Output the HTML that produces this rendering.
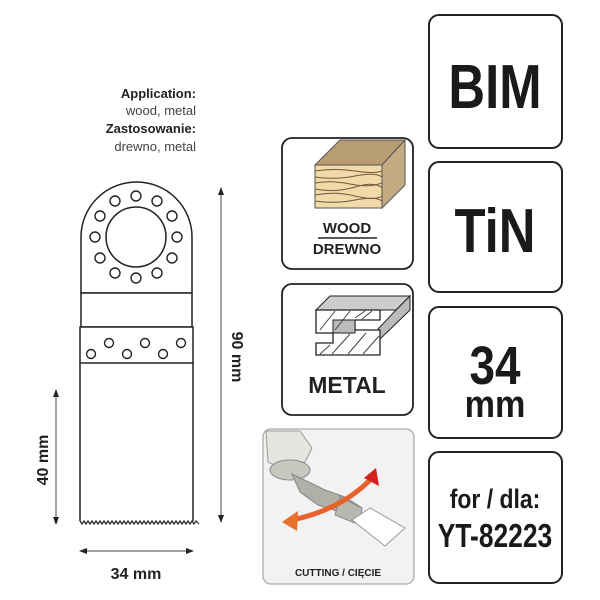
<!DOCTYPE html>
<html><head><meta charset="utf-8"><style>
html,body{margin:0;padding:0;background:#fff;}
svg{display:block;font-family:"Liberation Sans",sans-serif;}
</style></head><body>
<svg width="600" height="600" viewBox="0 0 600 600" xmlns="http://www.w3.org/2000/svg">
<defs>
<marker id="ah" markerWidth="8" markerHeight="8" refX="7" refY="4" orient="auto-start-reverse" markerUnits="userSpaceOnUse"><path d="M0,1 L8,4 L0,7 Z" fill="#222"/></marker>
</defs>
<g font-size="13" text-anchor="end" fill="#222">
<text x="196" y="98" font-weight="bold">Application:</text>
<text x="196" y="115" fill="#444">wood, metal</text>
<text x="196" y="133" font-weight="bold">Zastosowanie:</text>
<text x="196" y="151" fill="#444">drewno, metal</text>
</g>
<g fill="#fff" stroke="#222" stroke-width="1.5">
<path d="M81,293 L81,237 A55.5,55 0 0 1 192,237 L192,293 Z"/>
<rect x="81" y="293" width="111" height="34"/>
<rect x="80" y="327" width="113" height="36"/>
<path d="M80,363 L80,521 M193,521 L193,363" fill="none"/>
<circle cx="136" cy="237" r="30"/>
</g>
<path d="M80,521 l2,3 l2,-3 l2,3 l2,-3 l2,3 l2,-3 l2,3 l2,-3 l2,3 l2,-3 l2,3 l2,-3 l2,3 l2,-3 l2,3 l2,-3 l2,3 l2,-3 l2,3 l2,-3 l2,3 l2,-3 l2,3 l2,-3 l2,3 l2,-3 l2,3 l2,-3 l2,3 l2,-3 l2,3 l2,-3 l2,3 l2,-3 l2,3 l2,-3 l2,3 l2,-3 l2,3 l2,-3 l2,3 l2,-3 l2,3 l2,-3 l2,3 l2,-3 l2,3 l2,-3 l2,3 l2,-3 l2,3 l2,-3 l2,3 l2,-3 l2,3 l2,-3 l2,3 l2,-3 l3,3" fill="none" stroke="#222" stroke-width="1.2"/>
<g fill="#fff" stroke="#222" stroke-width="1.4">
<circle cx="136" cy="196" r="5"/>
<circle cx="157" cy="201" r="5"/>
<circle cx="172" cy="216" r="5"/>
<circle cx="177" cy="237" r="5"/>
<circle cx="172" cy="258" r="5"/>
<circle cx="157" cy="273" r="5"/>
<circle cx="136" cy="278" r="5"/>
<circle cx="115" cy="273" r="5"/>
<circle cx="100" cy="258" r="5"/>
<circle cx="95" cy="237" r="5"/>
<circle cx="100" cy="216" r="5"/>
<circle cx="115" cy="201" r="5"/>
<circle cx="91" cy="354" r="4.5"/>
<circle cx="109" cy="343" r="4.5"/>
<circle cx="127" cy="354" r="4.5"/>
<circle cx="145" cy="343" r="4.5"/>
<circle cx="163" cy="354" r="4.5"/>
<circle cx="181" cy="343" r="4.5"/>
</g>
<g stroke="#444" stroke-width="1" fill="none">
<line x1="221" y1="188" x2="221" y2="522" marker-start="url(#ah)" marker-end="url(#ah)"/>
<line x1="56" y1="390" x2="56" y2="524" marker-start="url(#ah)" marker-end="url(#ah)"/>
<line x1="80" y1="551" x2="193" y2="551" marker-start="url(#ah)" marker-end="url(#ah)"/>
</g>
<g font-size="16" font-weight="bold" fill="#222" text-anchor="middle">
<text transform="translate(232,357) rotate(90)">90 mm</text>
<text transform="translate(48,460) rotate(-90)">40 mm</text>
<text x="136" y="579">34 mm</text>
</g>
<rect x="282" y="138" width="131" height="131" rx="10" fill="#fff" stroke="#222" stroke-width="1.8"/>
<polygon points="315,165 340,140 405,140 382,165" fill="#b89d73" stroke="#555" stroke-width="1"/>
<polygon points="382,165 405,140 405,185 382,208" fill="#c4ab84" stroke="#555" stroke-width="1"/>
<rect x="315" y="165" width="67" height="43" fill="#f1d9a8" stroke="#555" stroke-width="1"/>
<g stroke="#6b5a3c" stroke-width="1" fill="none">
<path d="M315,171 q20,-3 40,0 t27,0"/>
<path d="M315,177 q20,3 40,-1 t27,1"/>
<path d="M315,183 q15,-3 35,1 t32,-1"/>
<path d="M315,189 q20,4 40,-2 t27,1"/>
<path d="M315,195 q20,-4 40,1 t27,0"/>
<path d="M315,201 q20,3 40,-1 t27,1"/>
</g>
<text x="347" y="233" font-size="15" font-weight="bold" text-anchor="middle" fill="#222">WOOD</text>
<line x1="318" y1="238" x2="377" y2="238" stroke="#222" stroke-width="1.5"/>
<text x="347" y="254" font-size="15" font-weight="bold" text-anchor="middle" fill="#222">DREWNO</text>
<rect x="282" y="284" width="131" height="131" rx="10" fill="#fff" stroke="#222" stroke-width="1.8"/>
<polygon points="316,310 330,296 410,296 396,310" fill="#ccc" stroke="#222" stroke-width="1"/>
<polygon points="396,310 410,296 410,310 378,341 378,329 396,310" fill="#bbb" stroke="#222" stroke-width="1"/>
<path d="M316,310 L380,310 L380,320 L355,320 L355,330 L380,330 L380,355 L316,355 L316,343 L333,343 L333,333 L316,333 Z" fill="#fff" stroke="#222" stroke-width="1.3"/>
<rect x="333" y="320" width="22" height="13" fill="#bbb" stroke="#222"/>
<g stroke="#444" stroke-width="1">
<line x1="320" y1="330" x2="335" y2="311"/><line x1="335" y1="330" x2="350" y2="311"/><line x1="355" y1="318" x2="365" y2="311"/><line x1="362" y1="319" x2="372" y2="311"/>
<line x1="320" y1="354" x2="330" y2="345"/><line x1="332" y1="354" x2="350" y2="334"/><line x1="348" y1="354" x2="366" y2="333"/><line x1="363" y1="354" x2="379" y2="336"/>
</g>
<text x="347" y="393" font-size="23" font-weight="bold" text-anchor="middle" fill="#222">METAL</text>
<rect x="263" y="429" width="151" height="155" rx="8" fill="#f2f2f2" stroke="#aaa" stroke-width="1.3"/>
<path d="M266,431 L300,431 L312,448 L305,462 L285,470 L268,462 Z" fill="#e6e6e0" stroke="#999"/>
<ellipse cx="290" cy="470" rx="20" ry="10" fill="#c8c8c0" stroke="#888"/>
<path d="M292,474 L325,490 L345,497 L362,508 L358,520 L340,512 L318,505 L300,492 Z" fill="#b0b0a8" stroke="#888"/>
<path d="M340,497 L362,508 L360,525 L335,515 Z" fill="#b8b8b0" stroke="#888"/>
<polygon points="352,520 370,508 405,528 385,546" fill="#fff" stroke="#999"/>
<path d="M292,520 Q340,510 370,480" fill="none" stroke="#e8602a" stroke-width="5"/>
<polygon points="282,522 298,511 297,531" fill="#e8702a"/>
<polygon points="364,478 379,486 376,468" fill="#d62020"/>
<text x="338" y="576" font-size="10" font-weight="bold" text-anchor="middle" fill="#222">CUTTING / CIĘCIE</text>
<g fill="#fff" stroke="#222" stroke-width="2">
<rect x="429" y="15" width="133" height="133" rx="10"/>
<rect x="429" y="162" width="133" height="130" rx="10"/>
<rect x="429" y="307" width="133" height="131" rx="10"/>
<rect x="429" y="452" width="133" height="131" rx="10"/>
</g>
<g font-weight="bold" fill="#1a1a1a" text-anchor="middle">
<text x="0" y="0" font-size="62" transform="translate(495,108) scale(0.82,1)">BIM</text>
<text x="0" y="0" font-size="62" transform="translate(495,252) scale(0.82,1)">TiN</text>
<text x="0" y="0" font-size="54" transform="translate(495,384) scale(0.85,1)">34</text>
<text x="0" y="0" font-size="38" transform="translate(495,417) scale(0.9,1)">mm</text>
<text x="0" y="0" font-size="27" transform="translate(495,508) scale(0.85,1)">for / dla:</text>
<text x="0" y="0" font-size="33" transform="translate(495,547) scale(0.8,1)">YT-82223</text>
</g>
</svg>
</body></html>
